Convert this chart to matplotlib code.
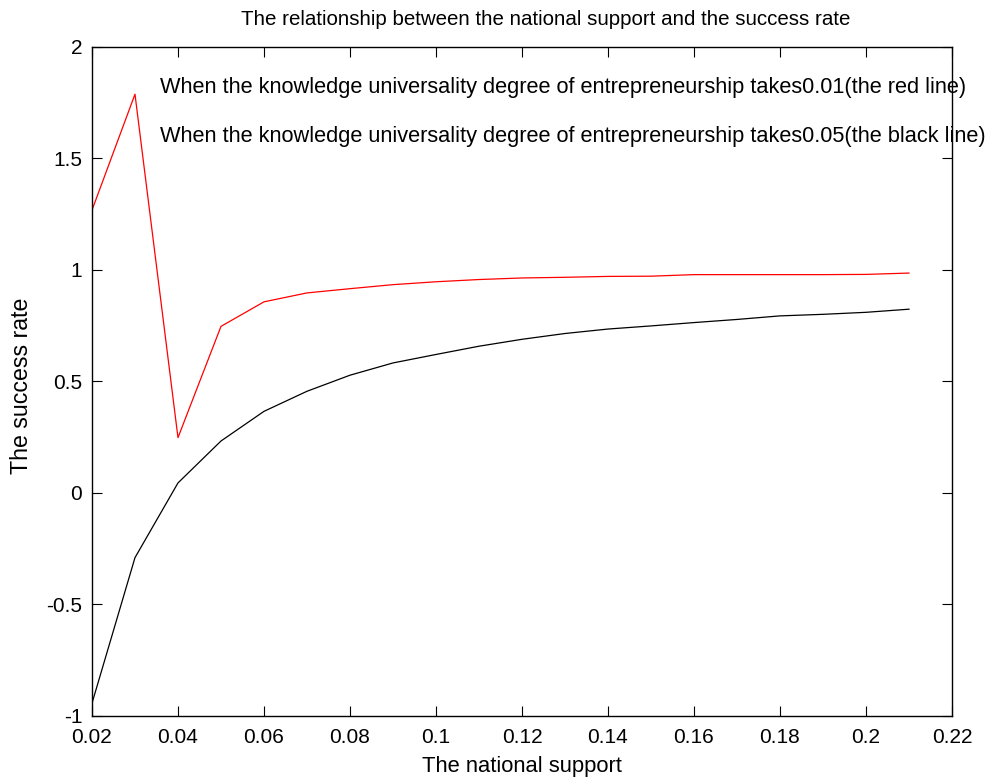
import matplotlib
matplotlib.use('Agg')
import matplotlib.pyplot as plt

plt.rcParams['font.family'] = ['Liberation Sans', 'DejaVu Sans']

# national support levels
support = [0.02, 0.03, 0.04, 0.05, 0.06, 0.07, 0.08, 0.09, 0.10, 0.11,
           0.12, 0.13, 0.14, 0.15, 0.16, 0.17, 0.18, 0.19, 0.20, 0.21]

# success rate, knowledge universality degree 0.01 (red)
rate_001 = [1.268, 1.788, 0.248, 0.747, 0.857, 0.897, 0.916, 0.934, 0.947, 0.957,
            0.964, 0.967, 0.971, 0.972, 0.979, 0.979, 0.979, 0.979, 0.980, 0.986]

# success rate, knowledge universality degree 0.05 (black)
rate_005 = [-0.943, -0.290, 0.045, 0.233, 0.366, 0.456, 0.528, 0.583, 0.621, 0.658,
            0.689, 0.715, 0.735, 0.749, 0.764, 0.778, 0.794, 0.801, 0.810, 0.824]

xticks = [0.02, 0.04, 0.06, 0.08, 0.10, 0.12, 0.14, 0.16, 0.18, 0.20, 0.22]
xtick_labels = ['0.02', '0.04', '0.06', '0.08', '0.1', '0.12', '0.14', '0.16', '0.18', '0.2', '0.22']
yticks = [-1, -0.5, 0, 0.5, 1, 1.5, 2]
ytick_labels = ['-1', '-0.5', '0', '0.5', '1', '1.5', '2']

fig = plt.figure(figsize=(10.02, 7.78), dpi=100)
ax = fig.add_axes([0.0918, 0.0797, 0.8583, 0.86])

ax.plot(support, rate_001, '-', color='red', linewidth=0.9)
ax.plot(support, rate_005, '-', color='black', linewidth=0.9)

ax.set_xlim(0.02, 0.22)
ax.set_ylim(-1, 2)
ax.set_xticks(xticks)
ax.set_xticklabels(xtick_labels)
ax.set_yticks(yticks)
ax.set_yticklabels(ytick_labels)
ax.tick_params(direction='in', top=True, right=True, length=7, width=0.8,
               labelsize=15)
ax.tick_params(axis='x', pad=9)
ax.tick_params(axis='y', pad=7)
for s in ax.spines.values():
    s.set_linewidth(1.0)

ax.text(0.0358, 1.819, 'When the knowledge universality degree of entrepreneurship takes0.01(the red line)',
        fontsize=15.7, va='center', ha='left')
ax.text(0.0358, 1.599, 'When the knowledge universality degree of entrepreneurship takes0.05(the black line)',
        fontsize=15.7, va='center', ha='left')

ax.text(0.527, 1.0 + 27 / 669, 'The relationship between the national support and the success rate',
        transform=ax.transAxes, fontsize=14.8, ha='center', va='center')
ax.set_xlabel('The national support', fontsize=15.8, labelpad=6)
ax.set_ylabel('The success rate', fontsize=16.7)
ax.yaxis.set_label_coords(-59 / 860, 0.493)

plt.savefig('out.png', dpi=100)
plt.close()
